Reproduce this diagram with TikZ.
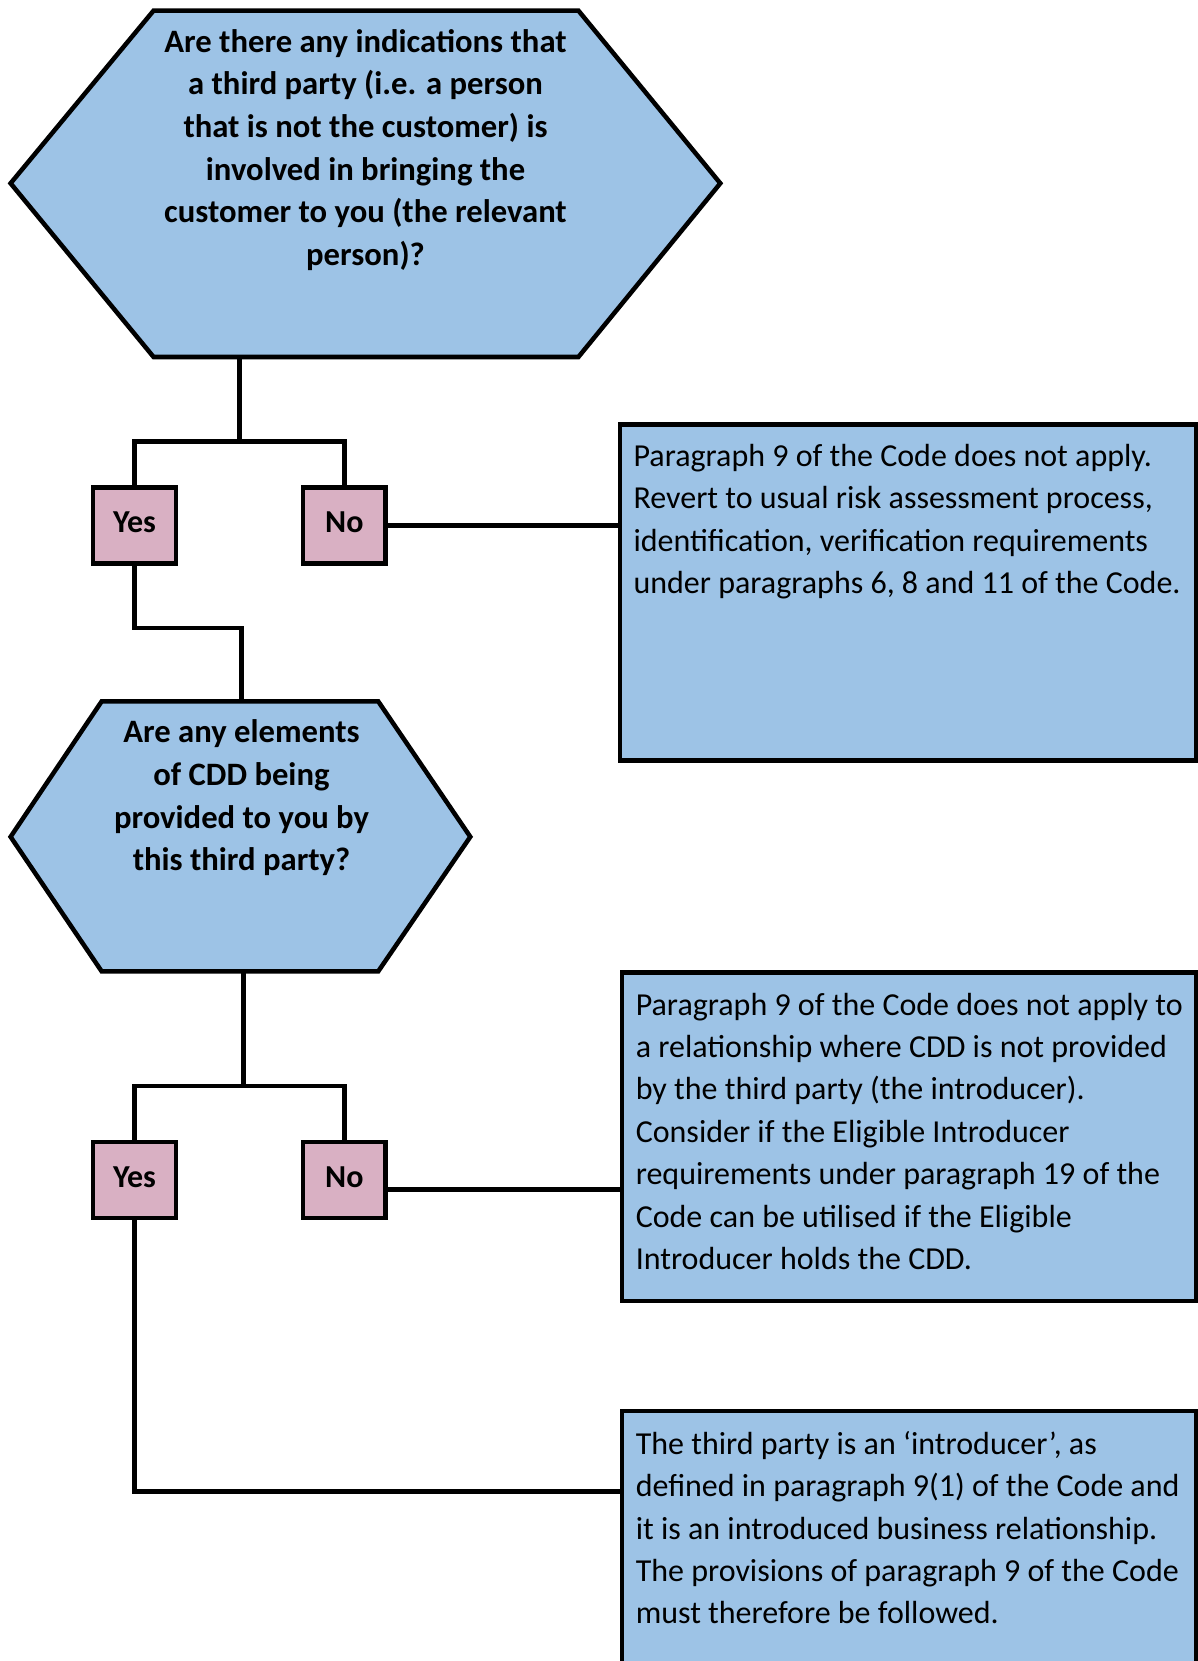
\documentclass[tikz,border=0pt]{standalone}
\usepackage{fontspec}
\setmainfont{Carlito}

\definecolor{qblue}{RGB}{157,195,230}
\definecolor{apink}{RGB}{217,176,195}

\tikzset{every picture/.style={line width=3.4pt}}
\tikzset{
  answer/.style={draw, fill=apink, minimum width=62pt, minimum height=57pt, inner sep=0pt, font=\fontsize{24}{28}\selectfont\bfseries},
  outcome/.style={draw, fill=qblue, inner sep=0pt},
  qtext/.style={align=center, inner sep=0pt, font=\fontsize{24.5}{32}\selectfont\bfseries},
  otext/.style={align=left, anchor=north west, inner sep=0pt, font=\fontsize{24}{31.8}\selectfont},
}

\begin{document}
\begin{tikzpicture}[x=0.75pt,y=0.75pt,yscale=-1,xscale=1]
	\useasboundingbox (0,0) rectangle (1198,1661);

	%Shape: Hexagon 
	\draw  [fill=qblue] (153.6,10.6) -- (578.4,10.6) -- (720.3,183.3) -- (578.4,357) -- (153.6,357) -- (10.6,183.3) -- cycle ;
	\coordinate (h1b) at (239.4,357);
	%Shape: Hexagon 
	\draw  [fill=qblue] (101.7,701.3) -- (378.2,701.3) -- (470.3,836.8) -- (378.2,971.4) -- (101.7,971.4) -- (10.6,836.8) -- cycle ;
	\coordinate (h2t) at (241.5,701.3);
	\coordinate (h2b) at (243.6,971.4);

	% Text Node
	\node [qtext] (q1) at (365.5,150) {Are there any indications that\\a third party (i.e. a person\\that is not the customer) is\\involved in bringing the\\customer to you (the relevant\\person)?};
	% Text Node
	\node [qtext] (q2) at (241.5,798) {Are any elements\\of CDD being\\provided to you by\\this third party?};

	%Shape: Rectangle 
	\node [answer] (yes1) at (134.5,525.4) {\raisebox{5pt}{Yes}};
	\node [answer] (no1) at (344.3,525.4) {\raisebox{5pt}{No}};
	\node [answer] (yes2) at (134.5,1180) {\raisebox{5pt}{Yes}};
	\node [answer] (no2) at (344.3,1180) {\raisebox{5pt}{No}};

	%Shape: Rectangle 
	\node [outcome, minimum width=432pt, minimum height=252pt] (r1) at (907.9,592.7) {};
	\node [outcome, minimum width=430.7pt, minimum height=246.3pt] (r2) at (908.9,1136.6) {};
	\node [outcome, minimum width=430.7pt, minimum height=231.8pt] (r3) at (908.9,1565.5) {};

	% Text Node
	\node [otext] (t1) at (631.3,442) {Paragraph 9 of the Code does not apply.\\Revert to usual risk assessment process,\\identification, verification requirements\\under paragraphs 6, 8 and 11 of the Code.};
	% Text Node
	\node [otext] (t2) at (633.5,990.5) {Paragraph 9 of the Code does not apply to\\a relationship where CDD is not provided\\by the third party (the introducer).\\Consider if the Eligible Introducer\\requirements under paragraph 19 of the\\Code can be utilised if the Eligible\\Introducer holds the CDD.};
	% Text Node
	\node [otext] (t3) at (633.5,1429) {The third party is an ‘introducer’, as\\defined in paragraph 9(1) of the Code and\\it is an introduced business relationship.\\The provisions of paragraph 9 of the Code\\must therefore be followed.};

	%Straight Lines 
	\coordinate (j1) at (239.4,441.7);
	\draw    (h1b) -- (j1) ;
	\draw    (j1) -| (yes1.north) ;
	\draw    (j1) -| (no1.north) ;
	\draw    (no1.east) -- (no1.east -| r1.west) ;
	%Straight Lines 
	\coordinate (k1) at (241.5,628.2);
	\draw    (yes1.south) |- (k1) -- (h2t) ;
	%Straight Lines 
	\coordinate (j2) at (243.6,1085.8);
	\draw    (h2b) -- (j2) ;
	\draw    (j2) -| (yes2.north) ;
	\draw    (j2) -| (no2.north) ;
	\coordinate (n2) at (385.6,1189.6);
	\draw    (n2) -- (n2 -| r2.west) ;
	%Straight Lines 
	\coordinate (k2) at (134.5,1491.5);
	\draw    (yes2.south) -- (k2) -- (k2 -| r3.west) ;

\end{tikzpicture}
\end{document}
